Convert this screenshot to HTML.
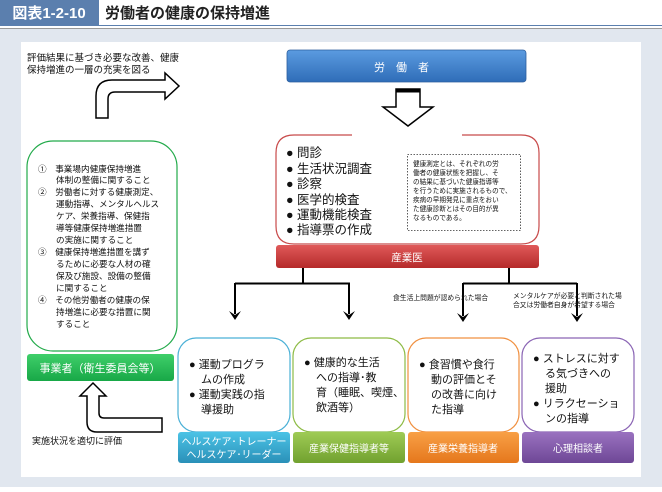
<!DOCTYPE html>
<html><head><meta charset="utf-8"><style>
body{margin:0;width:662px;height:487px;overflow:hidden;background:#fff;font-family:"Liberation Sans","Noto Sans CJK JP",sans-serif;}
svg text{font-family:"Liberation Sans","Noto Sans CJK JP",sans-serif;}
</style></head><body>
<svg width="662" height="487" viewBox="0 0 662 487" xmlns="http://www.w3.org/2000/svg">
<defs>
<linearGradient id="gb" x1="0" y1="0" x2="0" y2="1"><stop offset="0" stop-color="#5b9be0"/><stop offset="1" stop-color="#2f6db8"/></linearGradient>
<linearGradient id="gr" x1="0" y1="0" x2="0" y2="1"><stop offset="0" stop-color="#e05a5a"/><stop offset="1" stop-color="#b52a2a"/></linearGradient>
<linearGradient id="gg" x1="0" y1="0" x2="0" y2="1"><stop offset="0" stop-color="#3fcf6a"/><stop offset="1" stop-color="#18a847"/></linearGradient>
<linearGradient id="gc" x1="0" y1="0" x2="0" y2="1"><stop offset="0" stop-color="#4cc3e6"/><stop offset="1" stop-color="#2a90b8"/></linearGradient>
<linearGradient id="gl" x1="0" y1="0" x2="0" y2="1"><stop offset="0" stop-color="#9fcb55"/><stop offset="1" stop-color="#71a12f"/></linearGradient>
<linearGradient id="go" x1="0" y1="0" x2="0" y2="1"><stop offset="0" stop-color="#f8a046"/><stop offset="1" stop-color="#e5771c"/></linearGradient>
<linearGradient id="gp" x1="0" y1="0" x2="0" y2="1"><stop offset="0" stop-color="#9a72c0"/><stop offset="1" stop-color="#6e4796"/></linearGradient>
</defs>
<!-- title -->
<rect x="0" y="0" width="99" height="25" fill="#5b7fae"/>
<text x="49" y="18" font-size="15" font-weight="bold" fill="#fff" text-anchor="middle">図表1-2-10</text>
<text x="105" y="18" font-size="15" font-weight="bold" fill="#222">労働者の健康の保持増進</text>
<line x1="0" y1="25.5" x2="662" y2="25.5" stroke="#5b7fae" stroke-width="1"/>
<rect x="0" y="28" width="662" height="459" fill="#e1e7ef"/>
<line x1="0" y1="28.5" x2="662" y2="28.5" stroke="#999"/>
<rect x="21" y="42" width="620" height="435" fill="#fff"/>

<!-- top-left text and arrow -->
<text x="27" y="61" font-size="9.5" fill="#111">評価結果に基づき必要な改善、健康</text>
<text x="27" y="73" font-size="9.5" fill="#111">保持増進の一層の充実を図る</text>
<path d="M96,118 L96,96 Q96,80 112,80 L165,80 L165,73 L179,86 L165,99 L165,92 L115,92 Q108,92 108,99 L108,118 Z" fill="#fff" stroke="#000" stroke-width="1.5"/>

<!-- 労働者 -->
<rect x="287" y="50" width="239" height="32" rx="3" fill="url(#gb)" stroke="#2d5f9e" stroke-width="0.8"/>
<text x="407" y="71" font-size="11" fill="#fff" text-anchor="middle" letter-spacing="11">労働者</text>
<!-- down arrow -->
<path d="M396,89 L420,89 L420,107 L433,107 L408,126 L383,107 L396,107 Z" fill="#fff" stroke="#000" stroke-width="1.5"/>
<rect x="396" y="89" width="24" height="3.5" fill="#000"/>

<!-- red box -->
<path d="M352,135 L294,135 Q276,135 276,153 L276,226 Q276,244 294,244 L521,244 Q539,244 539,226 L539,153 Q539,135 521,135 L462,135" fill="none" stroke="#c84a4a" stroke-width="1.2"/>
<g font-size="12.5" fill="#111">
<text x="286" y="157">● 問診</text>
<text x="286" y="173">● 生活状況調査</text>
<text x="286" y="188">● 診察</text>
<text x="286" y="204">● 医学的検査</text>
<text x="286" y="219">● 運動機能検査</text>
<text x="286" y="234">● 指導票の作成</text>
</g>
<rect x="407.5" y="154.5" width="113" height="76" fill="#fff" stroke="#333" stroke-dasharray="1.5,1.5" stroke-width="0.8"/>
<g font-size="6.6" fill="#111">
<text x="413" y="166">健康測定とは、それぞれの労</text>
<text x="413" y="175">働者の健康状態を把握し、そ</text>
<text x="413" y="184">の結果に基づいた健康指導等</text>
<text x="413" y="193">を行うために実施されるもので、</text>
<text x="413" y="202">疾病の早期発見に重点をおい</text>
<text x="413" y="211">た健康診断とはその目的が異</text>
<text x="413" y="220">なるものである。</text>
</g>
<!-- 産業医 -->
<rect x="276" y="245" width="263" height="23" rx="3" fill="url(#gr)"/>
<text x="407" y="261" font-size="10.5" fill="#fff" text-anchor="middle">産業医</text>

<!-- connectors -->
<g stroke="#000" stroke-width="2" fill="none">
<path d="M303,268 L303,283.5 M235,283.5 L350,283.5 M235,283 L235,314 M349,283 L349,314"/>
<path d="M509,268 L509,283.5 M463,283.5 L577,283.5 M463,283 L463,316 M577,283 L577,316"/>
</g>
<g fill="#000">
<path d="M229,311 L235,320 L241,311 L235,315 Z"/>
<path d="M343,311 L349,320 L355,311 L349,315 Z"/>
<path d="M457,313 L463,322 L469,313 L463,317 Z"/>
<path d="M571,313 L577,322 L583,313 L577,317 Z"/>
</g>
<text x="393" y="300" font-size="6.8" fill="#111">食生活上問題が認められた場合</text>
<text x="513" y="298" font-size="6.8" fill="#111">メンタルケアが必要と判断された場</text>
<text x="513" y="307" font-size="6.8" fill="#111">合又は労働者自身が希望する場合</text>

<!-- green box -->
<rect x="27" y="141" width="150" height="210" rx="26" fill="#fff" stroke="#22aa4a" stroke-width="1.2"/>
<g font-size="8.6" fill="#111">
<text x="38" y="172">①　事業場内健康保持増進</text>
<text x="56" y="183">体制の整備に関すること</text>
<text x="38" y="195">②　労働者に対する健康測定、</text>
<text x="56" y="207">運動指導、メンタルヘルス</text>
<text x="56" y="219">ケア、栄養指導、保健指</text>
<text x="56" y="231">導等健康保持増進措置</text>
<text x="56" y="243">の実施に関すること</text>
<text x="38" y="255">③　健康保持増進措置を講ず</text>
<text x="56" y="267">るために必要な人材の確</text>
<text x="56" y="279">保及び施設、設備の整備</text>
<text x="56" y="291">に関すること</text>
<text x="38" y="303">④　その他労働者の健康の保</text>
<text x="56" y="315">持増進に必要な措置に関</text>
<text x="56" y="327">すること</text>
</g>
<rect x="27" y="354" width="147" height="27" rx="3" fill="url(#gg)"/>
<text x="100" y="372" font-size="11" fill="#fff" text-anchor="middle">事業者（衛生委員会等）</text>
<!-- up arrow -->
<path d="M87,422 L87,396 L80,396 L93,383 L106,396 L99,396 L99,413 Q99,418 104,418 L162,418 L162,432 L97,432 Q87,432 87,422 Z" fill="#fff" stroke="#000" stroke-width="1.5"/>
<text x="32" y="444" font-size="9" fill="#111">実施状況を適切に評価</text>

<!-- bottom cards -->
<g fill="none" stroke-width="1.2">
<rect x="178" y="338" width="112" height="94" rx="18" fill="#fff" stroke="#4ab0d6"/>
<rect x="293" y="338" width="112" height="94" rx="18" fill="#fff" stroke="#8dbb45"/>
<rect x="408" y="338" width="111" height="94" rx="18" fill="#fff" stroke="#f09040"/>
<rect x="522" y="338" width="112" height="94" rx="18" fill="#fff" stroke="#8a64b4"/>
</g>
<rect x="178" y="432" width="112" height="31" rx="3" fill="url(#gc)"/>
<rect x="293" y="432" width="112" height="31" rx="3" fill="url(#gl)"/>
<rect x="408" y="432" width="111" height="31" rx="3" fill="url(#go)"/>
<rect x="522" y="432" width="112" height="31" rx="3" fill="url(#gp)"/>
<g font-size="10" fill="#fff" text-anchor="middle">
<text x="234" y="445">ヘルスケア･トレーナー</text>
<text x="234" y="458">ヘルスケア･リーダー</text>
<text x="349" y="452">産業保健指導者等</text>
<text x="463" y="452">産業栄養指導者</text>
<text x="578" y="452">心理相談者</text>
</g>
<g font-size="11" fill="#111">
<text x="189" y="368">● 運動プログラ</text>
<text x="201" y="383">ムの作成</text>
<text x="189" y="398">● 運動実践の指</text>
<text x="201" y="413">導援助</text>
<text x="304" y="366">● 健康的な生活</text>
<text x="316" y="381">への指導･教</text>
<text x="316" y="396">育（睡眠、喫煙、</text>
<text x="316" y="411">飲酒等）</text>
<text x="419" y="368">● 食習慣や食行</text>
<text x="431" y="383">動の評価とそ</text>
<text x="431" y="398">の改善に向け</text>
<text x="431" y="413">た指導</text>
<text x="533" y="362">● ストレスに対す</text>
<text x="545" y="377">る気づきへの</text>
<text x="545" y="392">援助</text>
<text x="533" y="407">● リラクセーショ</text>
<text x="545" y="422">ンの指導</text>
</g>
</svg>
</body></html>
